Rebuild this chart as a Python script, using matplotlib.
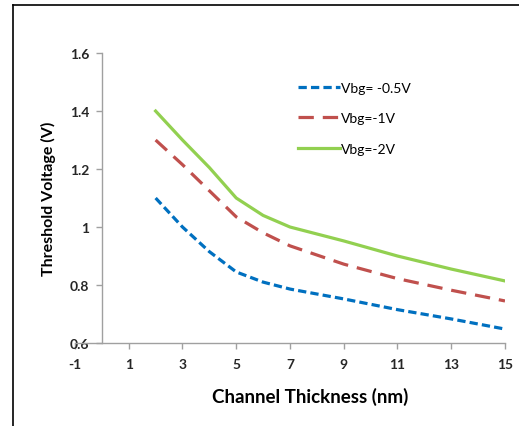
import numpy as np
import matplotlib
matplotlib.use('Agg')
import matplotlib.pyplot as plt
from matplotlib.lines import Line2D

plt.rcParams.update({
    "font.family": ["Lato", "DejaVu Sans"],
})

# data
thickness = [2, 3, 4, 5, 6, 7, 9, 11, 13, 15]
vbg_05 = [1.10, 1.00, 0.915, 0.845, 0.81, 0.786, 0.752, 0.715, 0.683, 0.648]
vbg_1 = [1.30, 1.215, 1.125, 1.035, 0.98, 0.935, 0.872, 0.822, 0.782, 0.745]
vbg_2 = [1.40, 1.30, 1.205, 1.10, 1.04, 1.00, 0.952, 0.90, 0.855, 0.814]
labels = ["Vbg= -0.5V", "Vbg=-1V", "Vbg=-2V"]
x_ticks = [-1, 1, 3, 5, 7, 9, 11, 13, 15]
y_ticks = [0.6, 0.8, 1.0, 1.2, 1.4, 1.6]
y_tick_labels = ["0.6", "0.8", "1", "1.2", "1.4", "1.6"]

fig = plt.figure(figsize=(5.19, 4.27), dpi=100)
ax = fig.add_axes([0.1445, 0.1944, 0.8285, 0.679])

lw = 2.3
ax.plot(thickness, vbg_05, color='#0070C0', lw=lw, dashes=(2.6, 1.3), label=labels[0])
ax.plot(thickness, vbg_1, color='#C0504D', lw=lw, dashes=(4.8, 2.8), label=labels[1])
ax.plot(thickness, vbg_2, color='#92D050', lw=lw, label=labels[2])

ax.set_xlim(-1, 15)
ax.set_ylim(0.6, 1.6)
ax.spines['left'].set_position(('data', 0))
ax.spines['top'].set_visible(False)
ax.spines['right'].set_visible(False)
for s in ('left', 'bottom'):
    ax.spines[s].set_color('#A0A0A0')
    ax.spines[s].set_linewidth(1.0)

ax.set_xticks(x_ticks)
ax.set_xticklabels([str(v) for v in x_ticks], fontweight='bold', fontsize=10)
ax.set_yticks(y_ticks)
ax.set_yticklabels(y_tick_labels, fontweight='bold', fontsize=10)
ax.tick_params(axis='both', colors='#A0A0A0', length=4, width=1,
               labelcolor='#262626')
ax.tick_params(axis='x', pad=7)
ax.tick_params(axis='y', pad=5)

ax.set_xlabel("Channel Thickness (nm)", fontsize=13.5, fontweight='bold')
ax.xaxis.set_label_coords(0.547, -0.15)
ax.set_ylabel("Threshold Voltage (V)", fontsize=11.5, fontweight='bold')
ax.yaxis.set_label_coords(-0.045, 0.5)

ax.legend(loc='upper left', bbox_to_anchor=(0.49, 0.945), frameon=False,
          fontsize=10, handlelength=3.0, handletextpad=0.1, labelspacing=1.35)

# outer border lines (top and left)
fig.add_artist(Line2D([13/519, 1], [1 - 6/427, 1 - 6/427], color='black', lw=1.2))
fig.add_artist(Line2D([13/519, 13/519], [0, 1 - 6/427], color='black', lw=1.2))

fig.savefig('out.png', dpi=100, facecolor='white')
